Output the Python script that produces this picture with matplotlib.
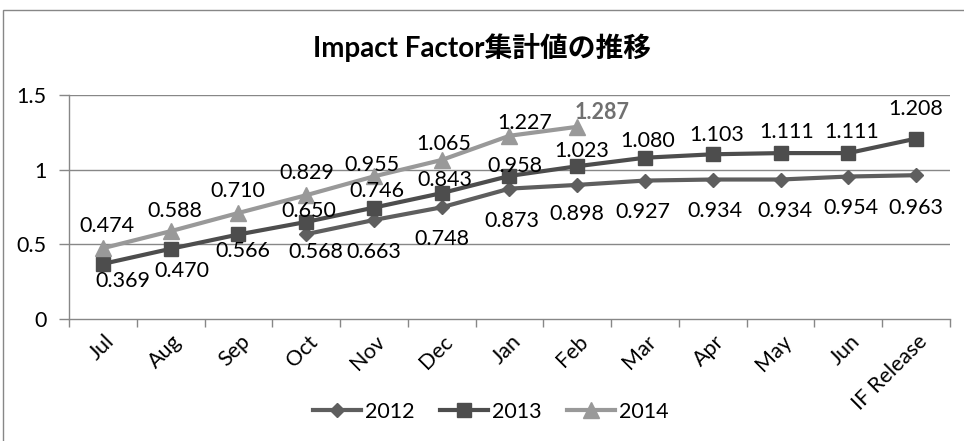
import matplotlib
matplotlib.use('Agg')
import matplotlib.pyplot as plt
from matplotlib.patches import Rectangle
import numpy as np

plt.rcParams['font.family'] = ['Lato', 'Noto Sans CJK JP', 'DejaVu Sans']

# ---- data ----
months = ['Jul', 'Aug', 'Sep', 'Oct', 'Nov', 'Dec', 'Jan', 'Feb',
          'Mar', 'Apr', 'May', 'Jun', 'IF Release']
nan = np.nan
if_2012 = [nan, nan, nan, 0.568, 0.663, 0.748, 0.873, 0.898,
           0.927, 0.934, 0.934, 0.954, 0.963]
if_2013 = [0.369, 0.470, 0.566, 0.650, 0.746, 0.843, 0.958, 1.023,
           1.080, 1.103, 1.111, 1.111, 1.208]
if_2014 = [0.474, 0.588, 0.710, 0.829, 0.955, 1.065, 1.227, 1.287,
           nan, nan, nan, nan, nan]
years = ['2012', '2013', '2014']

# label offsets in pixels (dx right, dy down), one per point
offs_2012 = [None, None, None, (10, 18), (0, 32), (0, 32), (2, 32), (0, 29),
             (-2, 31), (2, 31), (4, 31), (3, 31), (0, 33)]
offs_2013 = [(20, 17), (11, 22), (4, 17), (3, -11), (3, -17), (3, -13), (5, -10),
             (4, -15), (3, -17), (4, -19), (6, -21), (3, -21), (0, -30)]
offs_2014 = [(4, -22), (4, -20), (-1, -22), (1, -22), (-2, -11), (2, -16),
             (15, -13), (25, -14), None, None, None, None, None]

colors = ['#5e5e5e', '#4d4d4d', '#999999']
markers = ['D', 's', '^']
msizes = [7.5, 10.5, 11]
grid_c = '#878787'
fs = 15.5

fig = plt.figure(figsize=(9.64, 4.41), dpi=100)
ax = fig.add_axes([69/964, 1-319/441, (950-69)/964, (319-95)/441])

x = np.arange(len(months))
series = [if_2012, if_2013, if_2014]
offsets = [offs_2012, offs_2013, offs_2014]
for i in range(3):
    ax.plot(x, series[i], color=colors[i], lw=3, marker=markers[i],
            ms=msizes[i], label=years[i], zorder=3 + i)
    for j, v in enumerate(series[i]):
        if np.isnan(v):
            continue
        dx, dy = offsets[i][j]
        bold = (i == 2 and j == 7)
        ax.annotate('%.3f' % v, (x[j], v), xytext=(dx, -dy),
                    textcoords='offset pixels', ha='center', va='center',
                    fontsize=fs, color='#707070' if bold else 'black',
                    fontweight='bold' if bold else 'normal', zorder=10)

ax.set_xlim(-0.5, len(months) - 0.5)
ax.set_ylim(0, 1.5)
ax.set_yticks([0, 0.5, 1, 1.5])
ax.set_yticklabels(['0', '0.5', '1', '1.5'])
for y in [0.5, 1, 1.5]:
    ax.axhline(y, color=grid_c, lw=1, zorder=1)

# category boundaries as major ticks, labels on minor ticks
ax.set_xticks(np.arange(-0.5, len(months)))
ax.set_xticklabels([])
ax.set_xticks(x + 0.12, minor=True)
ax.set_xticklabels(months, minor=True, rotation=45, ha='right',
                   va='center', rotation_mode='anchor', fontsize=fs)
ax.tick_params(axis='x', which='major', length=6, color=grid_c, width=1)
ax.tick_params(axis='x', which='minor', length=0, pad=14)
ax.tick_params(axis='y', length=7, color=grid_c, width=1, labelsize=fs, pad=9)

for s in ['top', 'right']:
    ax.spines[s].set_visible(False)
for s in ['left', 'bottom']:
    ax.spines[s].set_color(grid_c)
    ax.spines[s].set_linewidth(1)

fig.text(0.5, 1-48/441, 'Impact Factor集計値の推移', ha='center', va='center',
         fontsize=20, fontweight='bold')

fig.legend(loc='center', bbox_to_anchor=(491/964, 1-412/441), ncol=3,
           frameon=False, fontsize=fs, handlelength=2.2, handletextpad=0.2,
           columnspacing=1.2)

# outer chart border
fig.patches.append(Rectangle((3/964, -0.5), 1.5, 0.5 + 1 - 10/441,
                             transform=fig.transFigure, fill=False,
                             edgecolor=grid_c, lw=1))

fig.savefig('out.png', dpi=100)
